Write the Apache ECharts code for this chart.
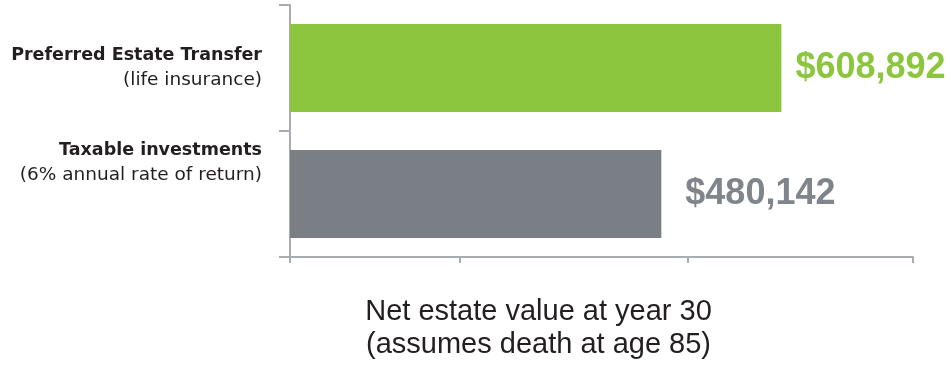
<!DOCTYPE html>
<html>
<head>
<meta charset="utf-8">
<script src="https://cdn.jsdelivr.net/npm/echarts@6/dist/echarts.min.js"></script>
<style>
html,body{margin:0;padding:0;background:#fff;}
#chart{width:951px;height:373px;}
</style>
</head>
<body>
<div id="chart"></div>
<script>
const categories = ['Preferred Estate Transfer', 'Taxable investments'];
const subtitles = ['(life insurance)', '(6% annual rate of return)'];
const values = [608892, 480142];
const valueLabels = ['$608,892', '$480,142'];
const xTickValues = [82000, 264000, 508000, 750000];
const axisTitle = 'Net estate value at year 30\n(assumes death at age 85)';

const barColors = ['#8cc63f', '#7a7e85'];
const labelColors = ['#8cc63f', '#80848b'];
const labelDistances = [14, 24];

const chart = echarts.init(document.getElementById('chart'));
chart.setOption({
  animation: false,
  backgroundColor: '#ffffff',
  grid: { left: 290, right: 38, top: 5, bottom: 116, containLabel: false },
  xAxis: {
    type: 'value',
    min: 82000,
    max: 750000,
    splitLine: { show: false },
    axisLabel: { show: false },
    axisLine: { show: true, lineStyle: { color: '#a9adb1', width: 2 } },
    axisTick: { show: true, length: 6, customValues: xTickValues, lineStyle: { color: '#a9adb1', width: 2 } },
    name: axisTitle,
    nameLocation: 'middle',
    nameGap: 38,
    nameTextStyle: {
      fontFamily: 'Liberation Sans',
      fontSize: 29,
      lineHeight: 33,
      color: '#231f20',
      padding: [0, 126, 0, 0]
    }
  },
  yAxis: {
    type: 'category',
    inverse: true,
    data: categories,
    axisLine: { show: true, lineStyle: { color: '#a9adb1', width: 2 } },
    axisTick: { show: true, length: 11, lineStyle: { color: '#a9adb1', width: 2 } },
    axisLabel: {
      margin: 28,
      align: 'right',
      formatter: function (v, i) {
        if (i === 1) return '{b|' + v + '}\n{n|' + subtitles[i] + '}\n{sp| }';
        return '{b|' + v + '}\n{n|' + subtitles[i] + '}';
      },
      rich: {
        b: { fontFamily: 'DejaVu Sans', fontWeight: 'bold', fontSize: 17.5, lineHeight: 25, color: '#231f20', align: 'right' },
        n: { fontFamily: 'DejaVu Sans', fontSize: 18.5, lineHeight: 25, color: '#231f20', align: 'right' },
        sp: { fontSize: 10, lineHeight: 63 }
      }
    }
  },
  series: [{
    type: 'bar',
    barWidth: 88,
    data: values.map(function (v, i) {
      return {
        value: v,
        itemStyle: { color: barColors[i] },
        label: {
          show: true,
          position: 'right',
          distance: labelDistances[i],
          formatter: valueLabels[i],
          color: labelColors[i],
          fontFamily: 'Liberation Sans',
          fontWeight: 'bold',
          fontSize: 36
        }
      };
    })
  }]
});
</script>
</body>
</html>
